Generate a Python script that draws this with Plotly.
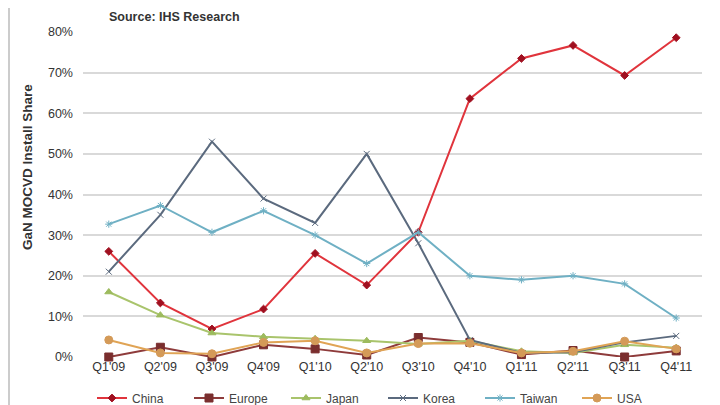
import plotly.graph_objects as go

quarters = ["Q1'09", "Q2'09", "Q3'09", "Q4'09", "Q1'10", "Q2'10",
            "Q3'10", "Q4'10", "Q1'11", "Q2'11", "Q3'11", "Q4'11"]

china = [26, 13.3, 6.9, 11.8, 25.5, 17.7, 30.7, 63.6, 73.5, 76.7, 69.3, 78.6]
europe = [0, 2.4, 0, 3.0, 2.0, 0.5, 4.8, 3.6, 0.6, 1.6, 0, 1.5]
japan = [16, 10.3, 5.9, 5.0, 4.5, 4.0, 3.2, 4.0, 1.4, 1.0, 3.0, 2.3]
korea = [21, 35, 53, 39, 33, 50, 28, 4.2, 1.0, 1.2, 3.6, 5.2]
taiwan = [32.7, 37.3, 30.7, 36, 30, 23, 30.7, 20, 19, 20, 18, 9.6]
usa = [4.2, 1.0, 0.8, 3.6, 4.0, 1.0, 3.3, 3.4, 1.0, 1.4, 3.9, 2.0]

series = [
    ("China", china, "#e0343c", "#a01020", "diamond", 6),
    ("Europe", europe, "#8e3b3b", "#7a2e2e", "square", 8),
    ("Japan", japan, "#a9c46c", "#9dbb5e", "triangle-up", 7),
    ("Korea", korea, "#5b6a7e", "#5b6a7e", "x-thin-open", 6),
    ("Taiwan", taiwan, "#6fb0c4", "#6fb0c4", "asterisk-open", 6),
    ("USA", usa, "#e0a455", "#d49a58", "circle", 8),
]

fig = go.Figure()
for name, vals, lc, mc, sym, ms in series:
    fig.add_trace(go.Scatter(
        x=quarters, y=vals, name=name, mode="lines+markers",
        line=dict(color=lc, width=2),
        marker=dict(color=mc, symbol=sym, size=ms, line=dict(color=mc, width=1)),
        cliponaxis=False,
    ))

# page body has an 8px margin; work in screen pixels and convert
OFF = 8
W, H = 720 - OFF, 405 - OFF
PL, PR, PT, PB = 83, 702, 32, 357          # plot area in screen pixels
L, R, T, B = PL - OFF, W - (PR - OFF), PT - OFF, H - (PB - OFF)
pw, ph = PR - PL, PB - PT


def px(sx):
    return (sx - PL) / pw


def py(sy):
    return (PB - sy) / ph


fig.update_layout(
    width=W, height=H,
    margin=dict(l=L, r=R, t=T, b=B, autoexpand=False),
    paper_bgcolor="white", plot_bgcolor="white",
    font=dict(family="Liberation Sans, Arial, sans-serif", color="#333333", size=12),
    showlegend=True,
    legend=dict(orientation="h", x=px(92), xanchor="left",
                y=py(398), yanchor="middle",
                entrywidth=52, entrywidthmode="pixels",
                font=dict(size=12, color="#444444"),
                bgcolor="rgba(0,0,0,0)"),
    xaxis=dict(type="category", range=[-0.5, 11.5], showgrid=False,
               showline=False, ticks="", tickfont=dict(size=12.5, color="#333333")),
    yaxis=dict(range=[0, 80], dtick=10, ticksuffix="%", showgrid=True,
               gridcolor="#d9d9d9", gridwidth=1.5, zeroline=False,
               showline=False, ticks="", ticklabelstandoff=9,
               tickfont=dict(size=12.5, color="#333333")),
    annotations=[
        dict(text="<b>Source: IHS Research</b>", xref="paper", yref="paper",
             x=px(107), y=py(OFF), xanchor="left", yanchor="top",
             showarrow=False, font=dict(size=12.5, color="#333333")),
        dict(text="<b>GaN MOCVD Install Share</b>", xref="paper", yref="paper",
             x=px(27), y=py(167), xanchor="center", yanchor="middle",
             textangle=-90, showarrow=False, font=dict(size=13.5, color="#333333")),
    ],
    shapes=[
        dict(type="line", xref="paper", yref="paper",
             x0=px(9), x1=px(9), y0=-0.2, y1=1.2,
             line=dict(color="#cccccc", width=2)),
        dict(type="line", xref="paper", yref="paper",
             x0=px(713), x1=px(713), y0=-0.2, y1=1.2,
             line=dict(color="#d6e2ea", width=2)),
    ],
)

fig.write_html("out.html")
